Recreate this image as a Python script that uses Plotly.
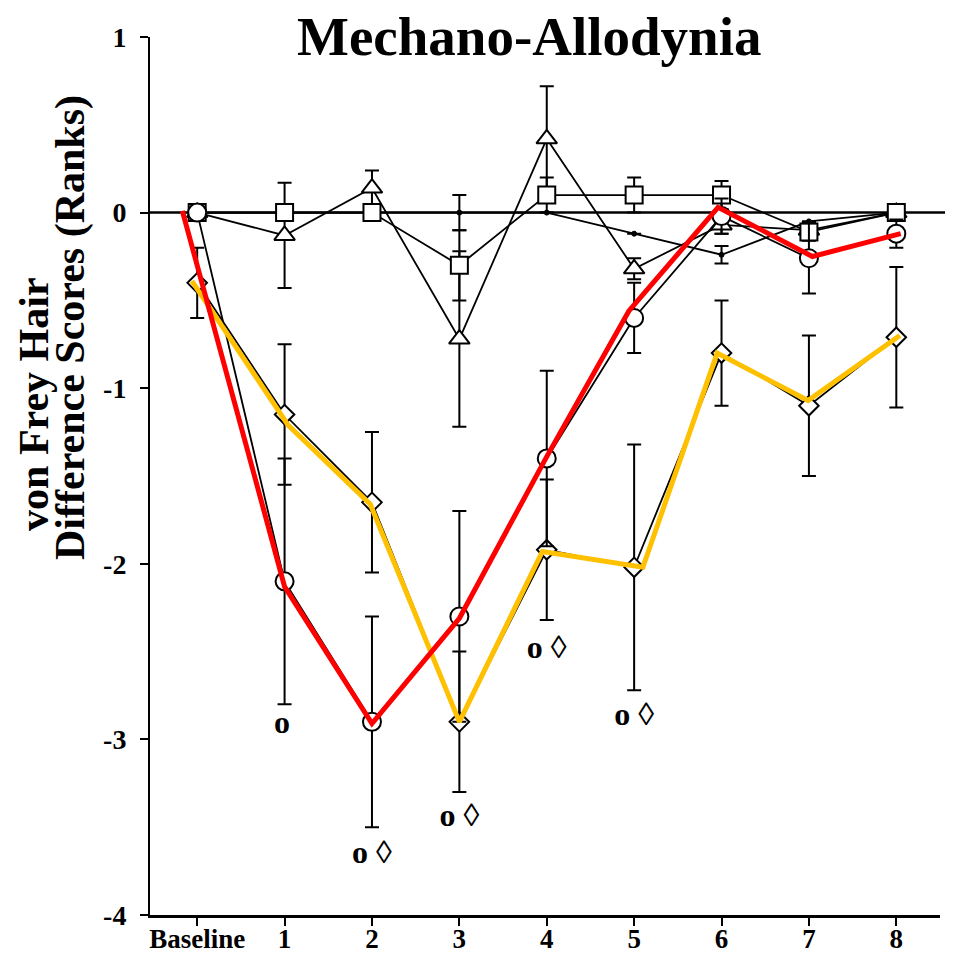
import plotly.graph_objects as go

# ---- data ----
x_pos = [0, 1, 2, 3, 4, 5, 6, 7, 8]
x_labels = ["Baseline", "1", "2", "3", "4", "5", "6", "7", "8"]

circle_y = [0, -2.1, -2.9, -2.3, -1.4, -0.6, -0.02, -0.26, -0.12]
circle_err = [0, 0.7, 0.6, 0.6, 0.5, 0.2, 0.1, 0.2, 0.08]

diamond_y = [-0.4, -1.15, -1.65, -2.9, -1.92, -2.02, -0.8, -1.1, -0.71]
diamond_err = [0.2, 0.4, 0.4, 0.4, 0.4, 0.7, 0.3, 0.4, 0.4]

square_y = [0, 0, 0, -0.3, 0.1, 0.1, 0.1, -0.11, 0]
square_err = [0, 0, 0, 0.2, 0.1, 0.1, 0.08, 0.05, 0]

triangle_y = [0, -0.13, 0.14, -0.72, 0.42, -0.32, -0.07, -0.1, 0]
triangle_err = [0, 0.3, 0.1, 0.5, 0.3, 0.06, 0.05, 0.05, 0]

small_y = [0, 0, 0, 0, 0, -0.12, -0.24, -0.05, 0]
small_err = [0, 0, 0, 0.1, 0, 0, 0.05, 0, 0]

# hand-drawn colour overlays
red_x = [-0.17, 1.0, 2.0, 3.0, 4.0, 4.94, 5.96, 7.04, 8.05]
red_y = [0.01, -2.13, -2.91, -2.31, -1.39, -0.56, 0.03, -0.25, -0.12]
gold_x = [-0.06, 1.04, 1.98, 3.0, 3.95, 5.1, 5.95, 6.99, 8.04]
gold_y = [-0.39, -1.21, -1.66, -2.9, -1.93, -2.02, -0.8, -1.07, -0.7]

sig_x = [0.97, 2, 3, 4, 5]
sig_y = [-2.92, -3.66, -3.45, -2.49, -2.87]
sig_text = ["<b>o</b>", "<b>o</b> ◊", "<b>o</b> ◊", "<b>o</b> ◊", "<b>o</b> ◊"]

y_ticks = [-4, -3, -2, -1, 0, 1]

SERIF = "Liberation Serif, Times New Roman, serif"

fig = go.Figure()


def err(arr):
    return dict(type="data", array=arr, visible=True, color="black",
                thickness=2, width=7)


def black_series(y, e, symbol, size, fill="white", mw=2):
    fig.add_trace(go.Scatter(
        x=x_pos, y=y, mode="lines+markers",
        line=dict(color="black", width=1.8),
        marker=dict(symbol=symbol, size=size, color=fill,
                    line=dict(color="black", width=mw)),
        error_y=err(e), showlegend=False, hoverinfo="skip"))


black_series(small_y, small_err, "circle", 5, fill="black", mw=1)
black_series(triangle_y, triangle_err, "triangle-up", 18)
black_series(square_y, square_err, "square", 17)
black_series(diamond_y, diamond_err, "diamond", 15)
black_series(circle_y, circle_err, "circle", 18)

fig.add_trace(go.Scatter(x=gold_x, y=gold_y, mode="lines",
                         line=dict(color="#FFC000", width=5),
                         showlegend=False, hoverinfo="skip"))
fig.add_trace(go.Scatter(x=red_x, y=red_y, mode="lines",
                         line=dict(color="#FF0000", width=5),
                         showlegend=False, hoverinfo="skip"))

fig.add_trace(go.Scatter(x=sig_x, y=sig_y, mode="text", text=sig_text,
                         textposition="middle center",
                         textfont=dict(family=SERIF, size=32, color="black"),
                         showlegend=False, hoverinfo="skip"))

# zero reference line extending to right edge
fig.add_shape(type="line", xref="paper", yref="y", x0=0, x1=1.02, y0=0, y1=0,
              line=dict(color="black", width=2.5), layer="below")

fig.add_annotation(text="<b>Mechano-Allodynia</b>", xref="paper", yref="paper",
                   x=0.48, y=1.0011, xanchor="center", yanchor="middle",
                   showarrow=False,
                   font=dict(family=SERIF, size=55, color="black"))
fig.add_annotation(text="<b>von Frey Hair</b>", xref="paper", yref="paper",
                   x=-0.1469, y=0.582, xanchor="center", yanchor="middle",
                   textangle=-90, showarrow=False,
                   font=dict(family=SERIF, size=42, color="black"))
fig.add_annotation(text="<b>Difference Scores (Ranks)</b>", xref="paper",
                   yref="paper", x=-0.1000, y=0.6686, xanchor="center",
                   yanchor="middle", textangle=-90, showarrow=False,
                   font=dict(family=SERIF, size=42, color="black"))

# page body has an 8px default margin, so the figure is sized to fit
fig.update_layout(
    width=945, height=949,
    margin=dict(l=142, r=13, t=29, b=42, autoexpand=False),
    paper_bgcolor="white", plot_bgcolor="white",
    showlegend=False,
    xaxis=dict(range=[-0.54, 8.5], tickvals=x_pos,
               ticktext=["<b>%s</b>" % t for t in x_labels],
               tickfont=dict(family=SERIF, size=27, color="black"),
               showgrid=False, zeroline=False, showline=True,
               linecolor="black", linewidth=3, ticks="outside",
               ticklen=8, tickwidth=2, tickcolor="black",
               ticklabelstandoff=-10, automargin=False),
    yaxis=dict(range=[-4, 1], tickvals=y_ticks,
               ticktext=["<b>%d</b>" % v for v in y_ticks],
               tickfont=dict(family=SERIF, size=28, color="black"),
               showgrid=False, zeroline=False, showline=True,
               linecolor="black", linewidth=2, ticks="outside",
               ticklen=8, tickwidth=2, tickcolor="black",
               ticklabelstandoff=8, automargin=False),
)

fig.write_html("out.html")
